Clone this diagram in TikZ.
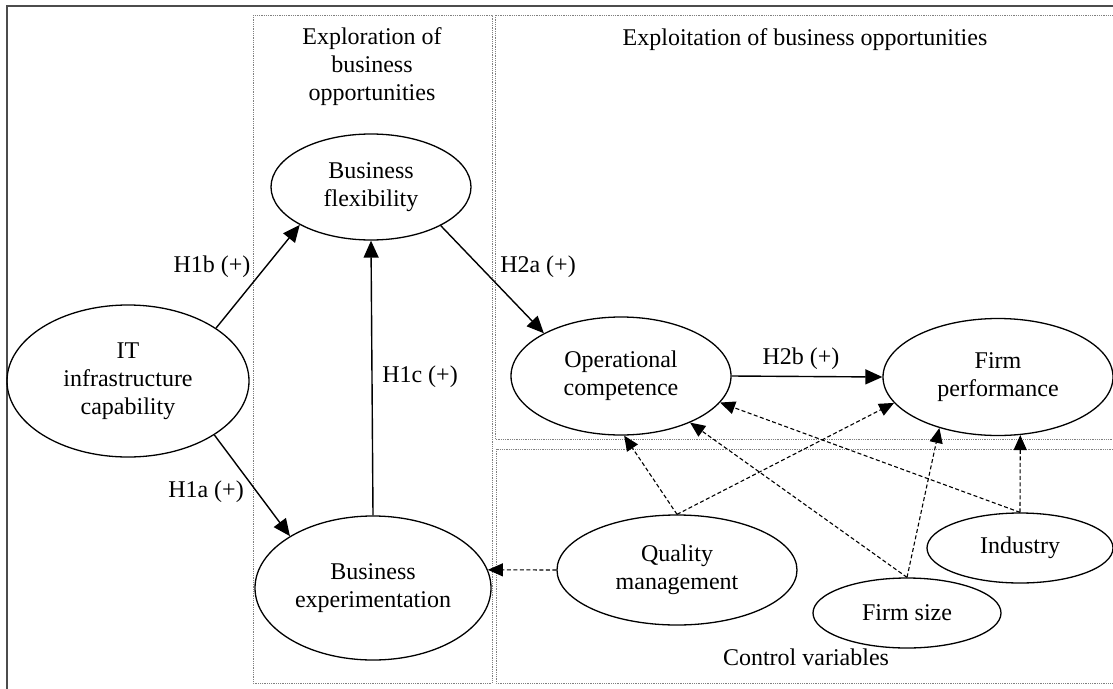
\documentclass[tikz,border=0pt]{standalone}
\usepackage{fontspec}
\setmainfont{Liberation Serif}
\usetikzlibrary{shapes.geometric,arrows.meta}
\begin{document}
\begin{tikzpicture}[x=1pt,y=-1pt,
  every node/.style={font=\fontsize{24}{28}\selectfont},
  ell/.style={ellipse,draw,line width=1.3pt,inner sep=0pt,align=center},
  boxline/.style={draw=gray,line width=0.9pt,dash pattern=on 1pt off 0.8pt},
  solidarrow/.style={line width=1.4pt,-{Triangle[length=17pt,width=15pt]}},
  dasharrow/.style={line width=1.1pt,dash pattern=on 4pt off 2.5pt,-{Triangle[length=15pt,width=13pt]}},
  lbl/.style={inner sep=0pt}]
\useasboundingbox (0,0) rectangle (1113,688);
\clip (0,0) rectangle (1113,688);
% outer frame
\draw[draw=black!70,line width=2pt] (7,6) rectangle (1125,700);
% group boxes
\draw[boxline] (253,15) rectangle (492,683);
\draw[boxline] (495,15) rectangle (1125,439);
\draw[boxline] (496,449) rectangle (1125,683);
% group titles
\node[align=center] (t1) at (372,67) {Exploration of\\business\\opportunities};
\node (t2) at (805,40) {Exploitation of business opportunities};
\node (t3) at (806,657) {Control variables};
% constructs
\node[ell,minimum width=242pt,minimum height=152pt] (it) at (128,381) {IT\\infrastructure\\capability};
\node[ell,minimum width=200pt,minimum height=106pt] (bf) at (371,187) {Business\\flexibility};
\node[ell,minimum width=236pt,minimum height=144pt] (be) at (373,588) {Business\\experimentation};
\node[ell,minimum width=220pt,minimum height=118pt] (oc) at (621,376) {Operational\\competence};
\node[ell,minimum width=230pt,minimum height=117pt] (fp) at (998,377) {Firm\\performance};
\node[ell,minimum width=240pt,minimum height=110pt] (qm) at (677,570) {Quality\\management};
\node[ell,minimum width=188pt,minimum height=70pt] (fs) at (907,613) {Firm size};
\node[ell,minimum width=186pt,minimum height=70pt] (ind) at (1020,548) {Industry};
% hypotheses
\draw[solidarrow] (it.31.6) -- (bf.208.8);
\draw[solidarrow] (it.328) -- (be.148.4);
\draw[solidarrow] (be.north) -- (bf.south);
\draw[solidarrow] (bf.331.6) -- (oc.151.1);
\draw[solidarrow] (oc.east) -- (fp.west);
\node[lbl] (h1b) at (212,267) {H1b (+)};
\node[lbl] (h1a) at (206,492) {H1a (+)};
\node[lbl] (h1c) at (420,377) {H1c (+)};
\node[lbl] (h2a) at (538,267) {H2a (+)};
\node[lbl] (h2b) at (801,359) {H2b (+)};
% controls
\draw[dasharrow] (qm.west) -- (be.9);
\draw[dasharrow] (qm.north) -- (oc.273);
\draw[dasharrow] (qm.north) -- (fp.194.4);
\draw[dasharrow] (fs.north) -- (oc.326);
\draw[dasharrow] (fs.north) -- (fp.221);
\draw[dasharrow] (ind.north) -- (oc.345);
\draw[dasharrow] (ind.north) -- (fp.291.5);
\end{tikzpicture}
\end{document}
